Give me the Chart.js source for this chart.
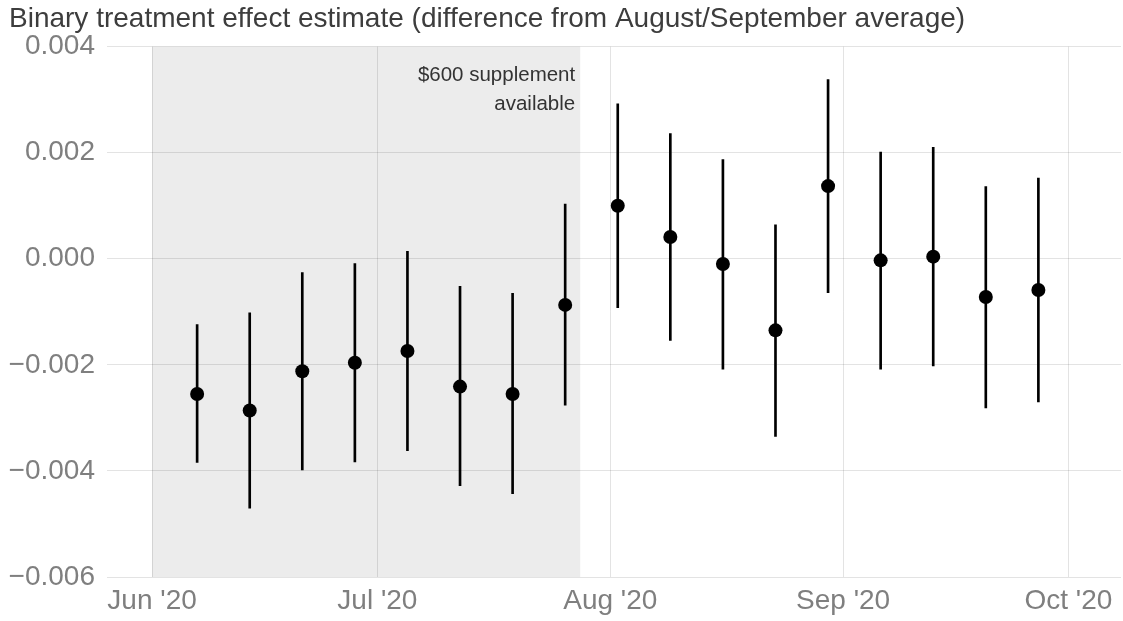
<!DOCTYPE html>
<html>
<head>
<meta charset="utf-8">
<script src="https://cdn.jsdelivr.net/npm/chart.js@4.4.1/dist/chart.umd.min.js"></script>
<style>
    html, body { margin: 0; padding: 0; background: #fff; }
    #wrap { width: 1123px; height: 621px; position: relative; }
</style>
</head>
<body>
<div id="wrap"><canvas id="effectChart"></canvas></div>
<script>
// weekly estimates with 95% intervals
const weeks = ['2020-06-07', '2020-06-14', '2020-06-21', '2020-06-28', '2020-07-05', '2020-07-12',
    '2020-07-19', '2020-07-26', '2020-08-02', '2020-08-09', '2020-08-16', '2020-08-23',
    '2020-08-30', '2020-09-06', '2020-09-13', '2020-09-20', '2020-09-27'];
const estimate = [-0.00255, -0.00286, -0.00212, -0.00196, -0.00174, -0.00241, -0.00255, -0.00087,
    0.00100, 0.00041, -0.00010, -0.00135, 0.00137, -0.00003, 0.00004, -0.00072, -0.00059];
const lower = [-0.00384, -0.00470, -0.00398, -0.00383, -0.00362, -0.00428, -0.00443, -0.00276,
    -0.00092, -0.00154, -0.00208, -0.00335, -0.00064, -0.00208, -0.00202, -0.00281, -0.00270];
const upper = [-0.00124, -0.00102, -0.00026, -0.00009, 0.00014, -0.00052, -0.00065, 0.00103,
    0.00292, 0.00236, 0.00187, 0.00064, 0.00338, 0.00201, 0.00210, 0.00136, 0.00152];
const monthTicks = ['2020-06-01', '2020-07-01', '2020-08-01', '2020-09-01', '2020-10-01'];
const supplementPeriod = ['2020-06-01', '2020-07-28'];
const supplementLabel = ['$600 supplement', 'available'];

const monthNames = ['Jan', 'Feb', 'Mar', 'Apr', 'May', 'Jun', 'Jul', 'Aug', 'Sep', 'Oct', 'Nov', 'Dec'];
const toTime = s => new Date(s + 'T00:00:00Z').getTime();
const axisColor = '#7f7f7f';
const fontFamily = '"Liberation Sans", Arial, Helvetica, sans-serif';

// grey shaded band + label for the supplement period
const supplementBand = {
    id: 'supplementBand',
    beforeDraw(chart) {
        const {ctx, chartArea, scales: {x}} = chart;
        const left = x.getPixelForValue(toTime(supplementPeriod[0]));
        const right = x.getPixelForValue(toTime(supplementPeriod[1]));
        ctx.save();
        ctx.fillStyle = '#ececec';
        ctx.fillRect(left, chartArea.top, right - left, chartArea.bottom - chartArea.top);
        ctx.restore();
    },
    afterDatasetsDraw(chart) {
        const {ctx, chartArea, scales: {x}} = chart;
        const right = x.getPixelForValue(toTime(supplementPeriod[1]));
        ctx.save();
        ctx.fillStyle = '#333333';
        ctx.font = '20.5px ' + fontFamily;
        ctx.textAlign = 'right';
        ctx.textBaseline = 'middle';
        supplementLabel.forEach((line, i) => {
            ctx.fillText(line, right - 5, chartArea.top + 29 + i * 29);
        });
        ctx.restore();
    }
};

const effectChart = document.getElementById('effectChart');
new Chart(effectChart, {
    type: 'scatter',
    data: {
        datasets: [{
            type: 'bar',
            label: 'Interval',
            data: weeks.map((w, i) => ({x: toTime(w), y: [lower[i], upper[i]]})),
            backgroundColor: '#000000',
            borderWidth: 0,
            barThickness: 2,
            order: 2
        }, {
            type: 'scatter',
            label: 'Estimate',
            data: weeks.map((w, i) => ({x: toTime(w), y: estimate[i]})),
            backgroundColor: '#000000',
            borderWidth: 0,
            pointRadius: 7,
            order: 1
        }]
    },
    options: {
        responsive: true,
        maintainAspectRatio: false,
        animation: false,
        layout: {
            autoPadding: false,
            padding: {left: 9, right: 2, top: 0, bottom: 0}
        },
        plugins: {
            legend: {display: false},
            tooltip: {enabled: false},
            title: {
                display: true,
                text: 'Binary treatment effect estimate (difference from August/September average)',
                align: 'start',
                color: '#3d3d3d',
                font: {family: fontFamily, size: 28, weight: 'normal'},
                padding: {top: 2, bottom: 11}
            }
        },
        scales: {
            x: {
                type: 'linear',
                offset: false,
                min: toTime('2020-05-26'),
                max: toTime('2020-10-08'),
                afterBuildTicks: scale => {
                    scale.ticks = monthTicks.map(m => ({value: toTime(m)}));
                },
                afterFit: scale => {
                    // month labels fit inside the panel, no extra side padding
                    scale.paddingLeft = 0;
                    scale.paddingRight = 0;
                    scale.height = 44;
                },
                ticks: {
                    color: axisColor,
                    font: {family: fontFamily, size: 28},
                    padding: 7,
                    maxRotation: 0,
                    autoSkip: false,
                    callback: value => {
                        const d = new Date(value);
                        return monthNames[d.getUTCMonth()] + " '" + String(d.getUTCFullYear()).slice(2);
                    }
                },
                grid: {color: 'rgba(0,0,0,0.11)', lineWidth: 1, drawTicks: false, offset: false},
                border: {display: false}
            },
            y: {
                min: -0.006,
                max: 0.004,
                afterFit: scale => {
                    scale.width = 98;
                },
                ticks: {
                    stepSize: 0.002,
                    color: axisColor,
                    font: {family: fontFamily, size: 28},
                    padding: 12,
                    callback: value => value.toFixed(3).replace('-', '\u2212')
                },
                grid: {color: 'rgba(0,0,0,0.11)', lineWidth: 1, drawTicks: false},
                border: {display: false}
            }
        }
    },
    plugins: [supplementBand]
});
</script>
</body>
</html>
